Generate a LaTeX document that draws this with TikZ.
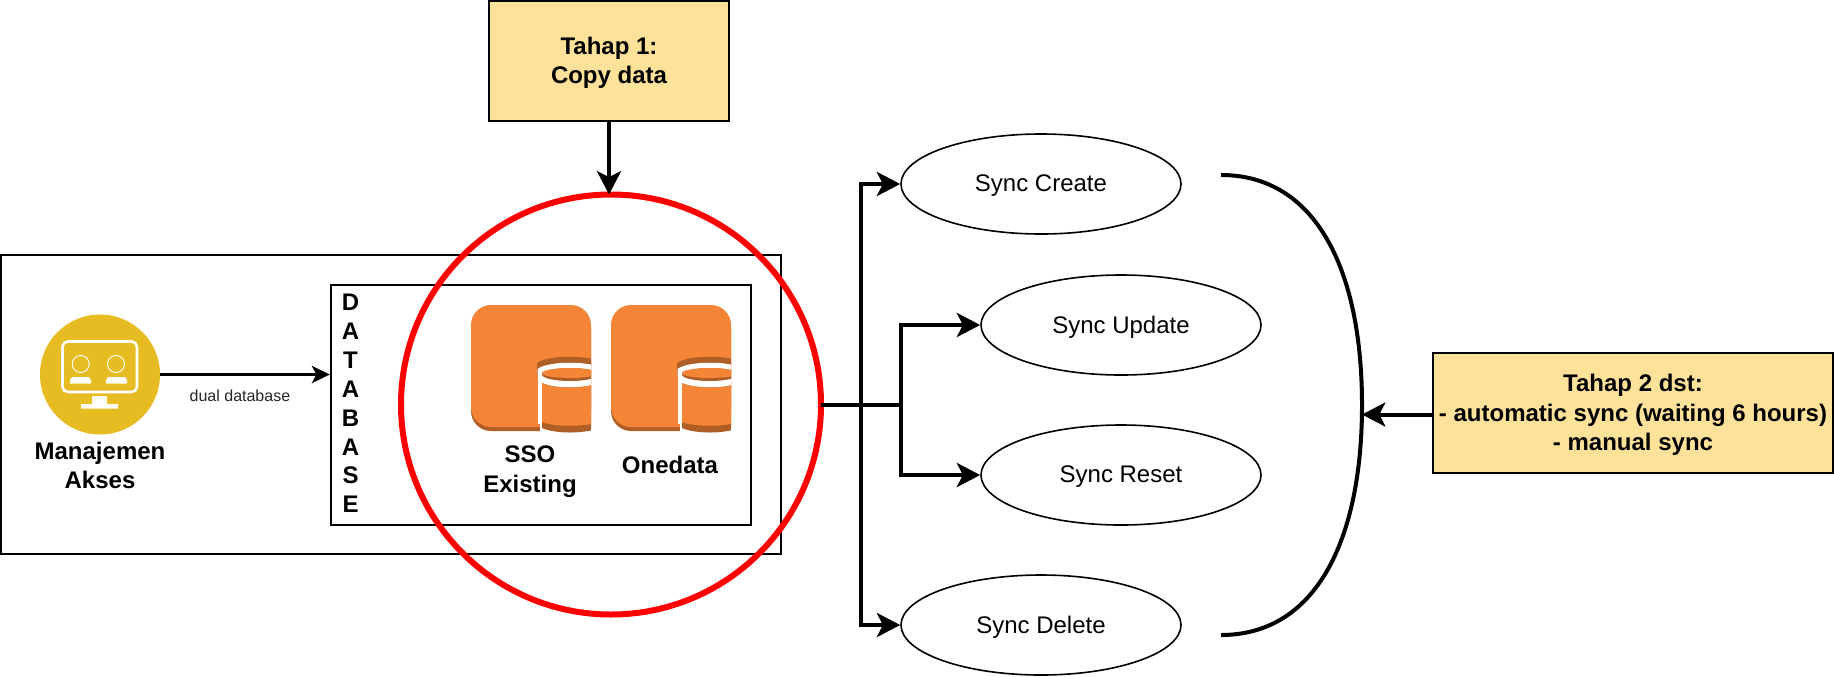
\documentclass[tikz,border=0pt]{standalone}
\usepackage{fontspec}
\setmainfont{Liberation Sans}
\usetikzlibrary{arrows.meta,shapes.geometric}
\definecolor{notefill}{HTML}{FFE299}
\definecolor{aksesyellow}{HTML}{E7BC22}
\definecolor{dborange}{HTML}{F58536}
\definecolor{dbshadow}{HTML}{AF5F26}
\newcommand{\firstline}{\rule{0pt}{16pt}}
\tikzset{
    bigtext/.style={font=\fontsize{18}{22}\selectfont\bfseries,align=center,inner sep=0pt},
    notebox/.style={draw,line width=1.8pt,fill=notefill,minimum width=180pt,minimum height=90pt,inner sep=0pt,bigtext},
    framebox/.style={draw,line width=1.8pt,inner sep=0pt},
    syncnode/.style={draw,ellipse,line width=1.2pt,minimum width=210pt,minimum height=75pt,inner sep=0pt,text depth=1pt,font=\fontsize{18}{22}\selectfont},
    bigline/.style={line width=3pt,-{Stealth[length=17.5pt,width=18pt,inset=4.5pt]}},
    thinline/.style={line width=1.6pt,-{Stealth[length=13.5pt,width=13pt,inset=3.5pt]}}
}
\begin{document}
\begin{tikzpicture}[x=0.75pt,y=-0.75pt]
    \useasboundingbox (0,0) rectangle (1834,676);
    % frames
    \node[framebox,minimum width=585pt,minimum height=224.25pt] (outerbox) at (391,404.5) {};
    \node[framebox,minimum width=315pt,minimum height=180pt] (dbbox) at (541,405) {};
    \node[bigtext,font=\fontsize{18}{21.65}\selectfont\bfseries] (dblabel) at (350.5,403.5) {D\\A\\T\\A\\B\\A\\S\\E};
    % manajemen akses icon
    \node[circle,fill=aksesyellow,minimum size=90pt,inner sep=0pt] (akses) at (100,374.5) {};
    \draw[white,line width=1.9pt,rounded corners=4pt] (62.5,341.5) rectangle (137,392);
    \draw[white,line width=0.7pt] (80.7,364) circle (8.5) (116,364) circle (8.5);
    \foreach \bustx in {70,106} {
        \fill[white] (\bustx,383.5) -- (\bustx,380.5) .. controls (\bustx,378) and (\bustx+1.5,377) .. (\bustx+5,377) -- (\bustx+16,377) .. controls (\bustx+19.5,377) and (\bustx+21,378) .. (\bustx+21,380.5) -- (\bustx+21,383.5) -- cycle;
    }
    \fill[white] (92,396) rectangle (107,404) (81,404) rectangle (118,408.5);
    \node[bigtext] (akseslabel) at (100,465.5) {Manajemen\\Akses};
    % database icons
    \foreach \iconx in {0,140} {
        \begin{scope}[shift={(\iconx,0)}]
            \clip (471,300) rectangle (591,440);
            \fill[dbshadow,rounded corners=15pt] (471,309) rectangle (591,431);
            \fill[dborange,rounded corners=15pt] (471,305) rectangle (591,427);
            \fill[dbshadow] (537,376) -- (537,363) .. controls (548,355) and (585,355) .. (600,361) -- (600,376) -- cycle;
            \fill[white] (537.5,376) -- (537.5,369) .. controls (548,361) and (585,361) .. (600,367) -- (600,376) -- cycle;
            \fill[white] (537.5,374) rectangle (600,424);
            \fill[white] (540,424) rectangle (600,436);
            \fill[dbshadow] (570,374.5) ellipse (28 and 6.5);
            \fill[dborange] (570,373) ellipse (28 and 5);
            \fill[dbshadow] (542,383) .. controls (555,389) and (585,389) .. (598,383) -- (598,428) .. controls (585,434) and (555,434) .. (542,428) -- cycle;
            \fill[dborange] (542,383) .. controls (555,389) and (585,389) .. (598,383) -- (598,422) .. controls (585,427) and (555,427) .. (542,422) -- cycle;
        \end{scope}
    }
    \node[bigtext] (ssolabel) at (530,471.5) {SSO\\Existing};
    \node[bigtext] (onelabel) at (670,465) {Onedata};
    % ring and notes
    \node[draw=red,circle,line width=4.5pt,minimum size=315pt,inner sep=0pt,outer sep=0pt] (ring) at (611,404.5) {};
    \node[notebox] (tahapone) at (609,61) {\firstline Tahap 1:\\Copy data};
    \node[notebox,minimum width=300pt] (tahaptwo) at (1633,413) {\firstline Tahap 2 dst:\\- automatic sync (waiting 6 hours)\\- manual sync};
    % sync nodes
    \node[syncnode] (create) at (1041,184) {Sync Create};
    \node[syncnode] (update) at (1121,325) {Sync Update};
    \node[syncnode] (reset) at (1121,475) {Sync Reset};
    \node[syncnode] (delete) at (1041,625) {Sync Delete};
    \coordinate (busleft) at (861,404.5);
    \coordinate (busright) at (901,404.5);
    \coordinate (curvetop) at (1221,175);
    \coordinate (curvemid) at (1362,405);
    \coordinate (curvebot) at (1221,635);
    \coordinate (curvetip) at (1362,414.5);
    % connectors
    \draw[thinline] (akses.east) -- (akses.east -| dbbox.west) node[pos=0.47,below=10.5pt,inner sep=0pt,text=black!85,font=\fontsize{12}{14}\selectfont] (duallabel) {dual database};
    \draw[bigline] (tahapone.south) -- (tahapone.south |- ring.north);
    \draw[bigline] (ring.east) -- (busleft) |- (create.west);
    \draw[bigline] (ring.east) -- (busleft) |- (delete.west);
    \draw[bigline] (ring.east) -- (busright) |- (update.west);
    \draw[bigline] (ring.east) -- (busright) |- (reset.west);
    \draw[line width=3pt] (curvetop) .. controls (1316,175) and (1362,270) .. (curvemid) .. controls (1362,540) and (1316,635) .. (curvebot);
    \draw[bigline] (tahaptwo.west |- curvetip) -- (curvetip);
\end{tikzpicture}
\end{document}
